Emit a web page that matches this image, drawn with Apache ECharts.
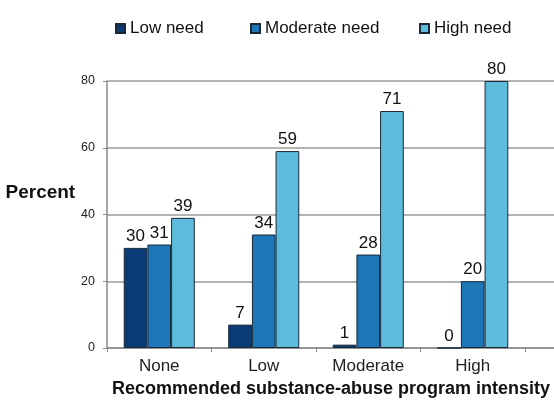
<!DOCTYPE html>
<html>
<head>
<meta charset="utf-8">
<script src="https://cdn.jsdelivr.net/npm/echarts@6/dist/echarts.min.js"></script>
<style>
  html, body { margin: 0; padding: 0; background: #fff; }
  #chart { width: 554px; height: 404px; }
</style>
</head>
<body>
<div id="chart"></div>
<script>
// Program intensity categories and the share (%) of each need group
const categories = ['None', 'Low', 'Moderate', 'High'];
const lowNeed = [30, 7, 1, 0];
const moderateNeed = [31, 34, 28, 20];
const highNeed = [39, 59, 71, 80];
const seriesNames = ['Low need', 'Moderate need', 'High need'];
const yTicks = { min: 0, max: 80, interval: 20 };

const FONT = 'Liberation Sans, Arial, sans-serif';
const colors = ['#0b3b74', '#1d76b6', '#5dbbdb'];
const legendLeft = [110, 245, 414];

const chart = echarts.init(document.getElementById('chart'));

function barSeries(name, data, color) {
  return {
    name: name,
    type: 'bar',
    xAxisIndex: 1,
    yAxisIndex: 1,
    data: data,
    barGap: '0%',
    barCategoryGap: '32%',
    itemStyle: { color: color, borderColor: '#1b2838', borderWidth: 1 },
    label: {
      show: true,
      position: 'top',
      distance: 3,
      color: '#111',
      fontFamily: FONT,
      fontSize: 17
    }
  };
}

// one legend block per series so each entry sits at its own spot
const legends = seriesNames.map((name, i) => ({
  left: legendLeft[i],
  top: 15,
  itemWidth: 9,
  itemHeight: 9,
  icon: 'rect',
  textStyle: { fontFamily: FONT, fontSize: 17, color: '#111' },
  data: [name]
}));

const gridBase = { top: 81, bottom: 56, containLabel: false, outerBoundsMode: 'none' };

chart.setOption({
  animation: false,
  textStyle: { fontFamily: FONT },
  legend: legends,
  grid: [
    // full-width background grid carrying the gridlines and the baseline
    Object.assign({ left: 107, right: 0 }, gridBase),
    // plotting grid for the bars and the category axis
    Object.assign({ left: 107, right: 29 }, gridBase)
  ],
  xAxis: [
    {
      gridIndex: 0,
      type: 'value',
      min: 0,
      max: 1,
      axisLine: { show: true, onZero: false, lineStyle: { color: '#8a8a8a', width: 1.5 } },
      axisTick: { show: false },
      axisLabel: { show: false },
      splitLine: { show: false }
    },
    {
      gridIndex: 1,
      type: 'category',
      data: categories,
      axisLine: { show: false },
      axisTick: { show: true, length: 4, lineStyle: { color: '#8a8a8a' } },
      axisLabel: { fontFamily: FONT, fontSize: 17, color: '#222', margin: 10 },
      name: 'Recommended substance-abuse program intensity',
      nameLocation: 'middle',
      nameGap: 32,
      nameTextStyle: { fontFamily: FONT, fontSize: 18, fontWeight: 'bold', color: '#111', padding: [0, 0, 0, 30] }
    }
  ],
  yAxis: [
    {
      gridIndex: 0,
      type: 'value',
      min: yTicks.min,
      max: yTicks.max,
      interval: yTicks.interval,
      axisLine: { show: false },
      axisTick: { show: false },
      axisLabel: { show: false },
      splitLine: { show: true, lineStyle: { color: '#9a9a9a', width: 1.5 } }
    },
    {
      gridIndex: 1,
      type: 'value',
      min: yTicks.min,
      max: yTicks.max,
      interval: yTicks.interval,
      axisLine: { show: true, lineStyle: { color: '#8a8a8a', width: 1.5 } },
      axisTick: { show: true, length: 4, lineStyle: { color: '#8a8a8a' } },
      axisLabel: { fontFamily: FONT, fontSize: 12.5, color: '#222', margin: 12 },
      splitLine: { show: false },
      name: 'Percent',
      nameLocation: 'middle',
      nameRotate: 0,
      nameGap: 27,
      nameTextStyle: {
        fontFamily: FONT, fontSize: 19, fontWeight: 'bold', color: '#111',
        verticalAlign: 'bottom', padding: [0, 0, 12, 0]
      }
    }
  ],
  series: [
    barSeries(seriesNames[0], lowNeed, colors[0]),
    barSeries(seriesNames[1], moderateNeed, colors[1]),
    barSeries(seriesNames[2], highNeed, colors[2])
  ]
});
</script>
</body>
</html>
